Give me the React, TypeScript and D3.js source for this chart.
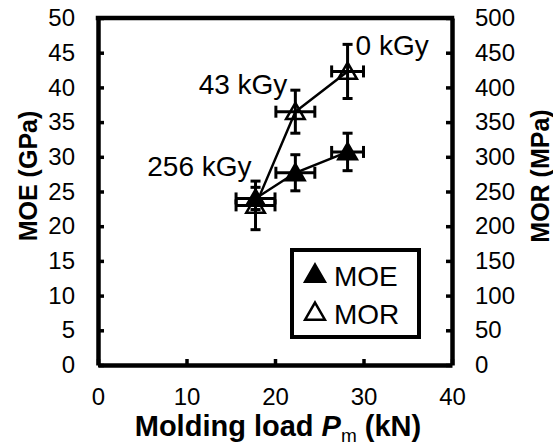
import React, { useRef, useEffect } from 'react';
import * as d3 from 'd3';

// molding load (kN) and irradiation dose of each sample
const doses = ['256 kGy', '43 kGy', '0 kGy'];
const loads = [17.8, 22.3, 28.2];
const loadErr = [2.2, 2.2, 1.8];
const moe = [24.0, 27.7, 30.7];
const moeErr = [1.6, 2.6, 2.7];
const mor = [230, 365, 423];
const morErr = [35, 31, 39];

const xTicks = [0, 10, 20, 30, 40];
const moeTicks = [0, 5, 10, 15, 20, 25, 30, 35, 40, 45, 50];
const morTicks = [0, 50, 100, 150, 200, 250, 300, 350, 400, 450, 500];

const App = () => {
  const svgRef = useRef<SVGSVGElement>(null);

  useEffect(() => {
    const width = 553;
    const height = 446;
    const m = { top: 18, right: 101, bottom: 81, left: 98 };
    const font = "'Liberation Sans', Arial, sans-serif";

    const svg = d3.select(svgRef.current)
      .attr('width', width)
      .attr('height', height)
      .style('font-family', font);
    svg.selectAll('*').remove();

    const x = d3.scaleLinear().domain([0, 40]).range([m.left, width - m.right]);
    const yL = d3.scaleLinear().domain([0, 50]).range([height - m.bottom, m.top]);
    const yR = d3.scaleLinear().domain([0, 500]).range([height - m.bottom, m.top]);

    // axes, ticks pointing inwards
    const gx = svg.append('g').attr('transform', `translate(0,${height - m.bottom})`)
      .call(d3.axisBottom(x).tickValues(xTicks).tickSizeInner(-6).tickSizeOuter(0).tickPadding(23));
    const gl = svg.append('g').attr('transform', `translate(${m.left},0)`)
      .call(d3.axisLeft(yL).tickValues(moeTicks).tickSizeInner(-6).tickSizeOuter(0).tickPadding(23));
    const gr = svg.append('g').attr('transform', `translate(${width - m.right},0)`)
      .call(d3.axisRight(yR).tickValues(morTicks).tickSizeInner(-6).tickSizeOuter(0).tickPadding(23));
    [gx, gl, gr].forEach(g => {
      g.select('.domain').attr('stroke', '#000').attr('stroke-width', 4.5);
      g.selectAll('.tick line').attr('stroke', '#000').attr('stroke-width', 3.5);
      g.selectAll('.tick text').attr('font-size', 24).attr('font-family', font).attr('fill', '#000');
    });
    // top frame line
    svg.append('line')
      .attr('x1', m.left - 2.25).attr('x2', width - m.right + 2.25)
      .attr('y1', m.top).attr('y2', m.top)
      .attr('stroke', '#000').attr('stroke-width', 4.5);

    const tri = d3.symbol().type(d3.symbolTriangle).size(150);

    const drawSeries = (vals: number[], errs: number[], y: d3.ScaleLinear<number, number>, filled: boolean) => {
      const g = svg.append('g');
      const pts = loads.map((l, i) => ({ x: l, y: vals[i], ex: loadErr[i], ey: errs[i] }));
      g.append('path')
        .datum(pts)
        .attr('fill', 'none')
        .attr('stroke', '#000')
        .attr('stroke-width', 2.5)
        .attr('d', d3.line<any>().x(d => x(d.x)).y(d => y(d.y)));
      pts.forEach(d => {
        const cx = x(d.x), cy = y(d.y);
        const xl = x(d.x - d.ex), xr = x(d.x + d.ex);
        const yt = y(d.y + d.ey), yb = y(d.y - d.ey);
        g.append('path')
          .attr('d', tri)
          .attr('transform', `translate(${cx},${cy + 2})`)
          .attr('fill', filled ? '#000' : 'none')
          .attr('stroke', '#000')
          .attr('stroke-width', 2.5);
        const segs = [
          [xl, cy, xr, cy], [cx, yt, cx, yb],
          [xl, cy - 6, xl, cy + 6], [xr, cy - 6, xr, cy + 6],
          [cx - 5, yt, cx + 5, yt], [cx - 5, yb, cx + 5, yb],
        ];
        segs.forEach(s => g.append('line')
          .attr('x1', s[0]).attr('y1', s[1]).attr('x2', s[2]).attr('y2', s[3])
          .attr('stroke', '#000').attr('stroke-width', 3));
      });
    };

    drawSeries(mor.map(v => v / 10), morErr.map(v => v / 10), yL, false);
    drawSeries(moe, moeErr, yL, true);

    // dose labels
    const lab = svg.append('g').attr('font-size', 28).attr('fill', '#000');
    lab.append('text').attr('x', x(loads[0]) - 4).attr('y', yL(moe[0]) - 22)
      .attr('text-anchor', 'end').text(doses[0]);
    lab.append('text').attr('x', x(loads[1]) - 8).attr('y', yR(mor[1]) - 18)
      .attr('text-anchor', 'end').text(doses[1]);
    lab.append('text').attr('x', x(loads[2]) + 8).attr('y', yR(mor[2]) - 16)
      .attr('text-anchor', 'start').text(doses[2]);

    // legend
    const lg = svg.append('g');
    lg.append('rect')
      .attr('x', 292).attr('y', 250).attr('width', 127).attr('height', 87)
      .attr('fill', '#fff').attr('stroke', '#000').attr('stroke-width', 4);
    [{ name: 'MOE', filled: true }, { name: 'MOR', filled: false }].forEach((s, i) => {
      const cy = 276 + i * 38;
      lg.append('path').attr('d', d3.symbol().type(d3.symbolTriangle).size(170))
        .attr('transform', `translate(315,${cy})`)
        .attr('fill', s.filled ? '#000' : '#fff')
        .attr('stroke', '#000').attr('stroke-width', 2.5);
      lg.append('text').attr('x', 334).attr('y', cy + 10)
        .attr('font-size', 28).text(s.name);
    });

    // axis titles
    svg.append('text')
      .attr('x', 278).attr('y', 436)
      .attr('text-anchor', 'middle').attr('font-size', 29).attr('font-weight', 'bold')
      .call(t => {
        t.append('tspan').text('Molding load ');
        t.append('tspan').attr('font-style', 'italic').text('P');
        t.append('tspan').attr('font-size', 19).attr('font-weight', 'normal').attr('dy', 6).text('m');
        t.append('tspan').attr('dy', -6).text(' (kN)');
      });
    svg.append('text')
      .attr('transform', `translate(37,176) rotate(-90)`)
      .attr('text-anchor', 'middle').attr('font-size', 25).attr('font-weight', 'bold')
      .text('MOE (GPa)');
    svg.append('text')
      .attr('transform', `translate(549,176) rotate(-90)`)
      .attr('text-anchor', 'middle').attr('font-size', 25).attr('font-weight', 'bold')
      .text('MOR (MPa)');
  }, []);

  return <svg ref={svgRef} style={{ position: 'absolute', left: 0, top: 0 }}></svg>;
};

export default App;
